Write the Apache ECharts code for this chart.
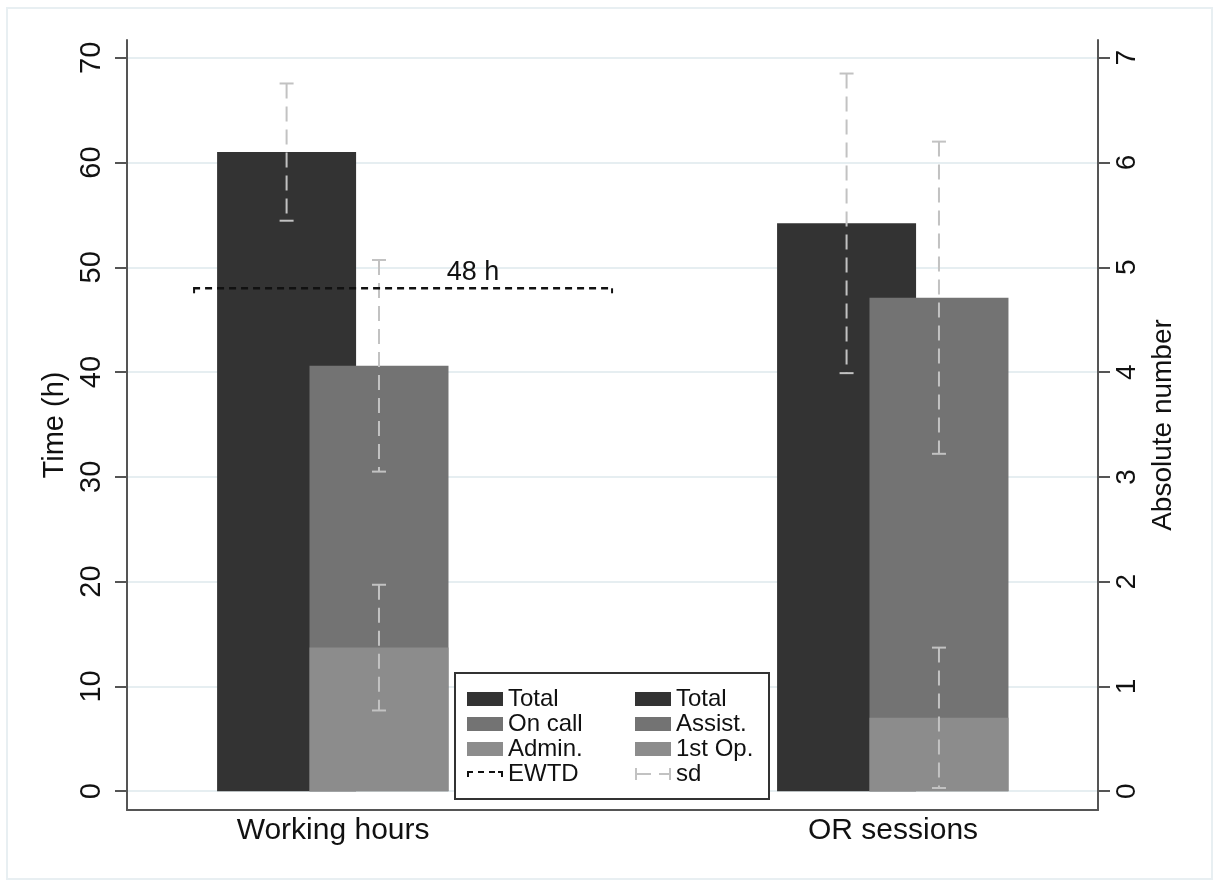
<!DOCTYPE html>
<html>
<head>
<meta charset="utf-8">
<script src="https://cdn.jsdelivr.net/npm/echarts@6/dist/echarts.min.js"></script>
<style>
  html, body { margin: 0; padding: 0; background: #fff; }
  #chart { width: 1216px; height: 885px; }
</style>
</head>
<body>
<div id="chart"></div>
<script>
  // categories on the x axis
  const categories = ['Working hours', 'OR sessions'];

  // working hours (left axis, hours)
  const hoursNames = ['Total', 'On call', 'Admin.'];
  const hoursMean = [61.0, 40.6, 13.7];
  const hoursSd = [6.55, 10.1, 6.0];

  // OR sessions (right axis, absolute number)
  const orNames = ['Total (OR)', 'Assist.', '1st Op.'];
  const orMean = [5.42, 4.71, 0.70];
  const orSd = [1.43, 1.49, 0.67];

  // european working time directive line
  const ewtdValue = 48;
  const ewtdRange = [0.75, 1.5];

  const leftTicks = [0, 10, 20, 30, 40, 50, 60, 70];
  const rightTicks = [0, 1, 2, 3, 4, 5, 6, 7];

  const colors = ['#333333', '#737373', '#8c8c8c'];
  const sdColor = '#c2c2c2';
  const axisColor = '#555';
  const font = '"Liberation Sans", Arial, Helvetica, sans-serif';
  // total bar sits left of the category, the other two share the right slot
  const slot = [-0.083, 0.082, 0.082];

  let chart = echarts.init(document.getElementById('chart'));

  let barSeries = [];
  let sdHours = [];
  let sdOr = [];
  hoursNames.forEach(function (name, i) {
    barSeries.push({
      name: name, type: 'bar', xAxisIndex: 0, yAxisIndex: 0,
      barWidth: 139, barGap: '-100%',
      itemStyle: { color: colors[i] },
      data: [[1 + slot[i], hoursMean[i]]]
    });
    sdHours.push([1 + slot[i], hoursMean[i], hoursSd[i]]);
  });
  orNames.forEach(function (name, i) {
    barSeries.push({
      name: name, type: 'bar', xAxisIndex: 0, yAxisIndex: 1,
      barWidth: 139, barGap: '-100%',
      itemStyle: { color: colors[i] },
      data: [[2 + slot[i], orMean[i]]]
    });
    sdOr.push([2 + slot[i], orMean[i], orSd[i]]);
  });

  function errorBar(params, api) {
    const x = api.value(0), m = api.value(1), s = api.value(2);
    const top = api.coord([x, m + s]);
    const bot = api.coord([x, m - s]);
    const cw = 7;
    return {
      type: 'group',
      children: [
        { type: 'line', shape: { x1: top[0], y1: top[1], x2: bot[0], y2: bot[1] },
          style: { stroke: sdColor, lineWidth: 2, lineDash: [15, 8] } },
        { type: 'line', shape: { x1: top[0] - cw, y1: top[1], x2: top[0] + cw, y2: top[1] },
          style: { stroke: sdColor, lineWidth: 2 } },
        { type: 'line', shape: { x1: bot[0] - cw, y1: bot[1], x2: bot[0] + cw, y2: bot[1] },
          style: { stroke: sdColor, lineWidth: 2 } }
      ]
    };
  }

  function ewtdLine(params, api) {
    const p1 = api.coord([api.value(0), api.value(2)]);
    const p2 = api.coord([api.value(1), api.value(2)]);
    const lx = p1[0] + (p2[0] - p1[0]) * 2 / 3;
    return {
      type: 'group',
      children: [
        { type: 'line', shape: { x1: p1[0], y1: p1[1], x2: p2[0], y2: p2[1] },
          style: { stroke: '#111', lineWidth: 2.5, lineDash: [7, 5] } },
        { type: 'line', shape: { x1: p1[0] + 1, y1: p1[1], x2: p1[0] + 1, y2: p1[1] + 5 },
          style: { stroke: '#111', lineWidth: 2 } },
        { type: 'line', shape: { x1: p2[0] - 1, y1: p2[1], x2: p2[0] - 1, y2: p2[1] + 5 },
          style: { stroke: '#111', lineWidth: 2 } },
        { type: 'text', x: lx, y: p1[1] - 2,
          style: { text: ewtdValue + ' h', fill: '#111', font: '27px ' + font,
                   align: 'center', verticalAlign: 'bottom' } }
      ]
    };
  }

  const col1 = ['Total', 'On call', 'Admin.', 'EWTD'];

  chart.setOption({
    animation: false,
    textStyle: { fontFamily: font },
    graphic: [{
      type: 'rect', silent: true,
      shape: { x: 7, y: 8, width: 1205, height: 871 },
      style: { fill: 'none', stroke: '#e8eff2', lineWidth: 2 }
    }],
    grid: { left: 127, right: 118, top: 40, bottom: 75 },
    legend: {
      orient: 'vertical',
      left: 455, top: 673,
      height: 104,
      padding: [14, 8, 13, 12],
      itemGap: 1,
      itemWidth: 36, itemHeight: 14,
      borderColor: '#333', borderWidth: 2, borderRadius: 0,
      backgroundColor: '#fff',
      selectedMode: false,
      data: [
        { name: 'Total', icon: 'rect' },
        { name: 'On call', icon: 'rect' },
        { name: 'Admin.', icon: 'rect' },
        { name: 'EWTD', icon: 'path://M0,0h6v2h-6z M0,0h2v6h-2z M11,0h6v2h-6z M22,0h6v2h-6z M31,0h5v2h-5z M34,0h2v6h-2z' },
        { name: 'Total (OR)', icon: 'rect' },
        { name: 'Assist.', icon: 'rect' },
        { name: '1st Op.', icon: 'rect' },
        { name: 'sd', icon: 'path://M0,0h2v12h-2z M2,5h14v2h-14z M24,5h10v2h-10z M34,0h2v12h-2z' }
      ],
      formatter: function (name) {
        const label = name.replace(' (OR)', '');
        return (col1.indexOf(name) >= 0 ? '{a|' : '{b|') + label + '}';
      },
      textStyle: {
        color: '#111',
        rich: {
          a: { width: 126, fontSize: 24, lineHeight: 22, fontFamily: font, color: '#111' },
          b: { width: 85, fontSize: 24, lineHeight: 22, fontFamily: font, color: '#111' }
        }
      }
    },
    xAxis: {
      type: 'value',
      min: 0.632, max: 2.366,
      axisLine: { onZero: false, lineStyle: { color: axisColor, width: 2 } },
      axisTick: { show: false },
      splitLine: { show: false },
      axisLabel: {
        customValues: [1, 2],
        formatter: function (v) { return categories[Math.round(v) - 1]; },
        fontSize: 30, color: '#111', margin: 6
      }
    },
    yAxis: [{
      type: 'value',
      position: 'left',
      min: -1.8, max: 71.7,
      name: 'Time (h)', nameLocation: 'middle', nameGap: 57, nameRotate: 90,
      nameTextStyle: { fontSize: 29, color: '#111' },
      axisLine: { show: true, onZero: false, lineStyle: { color: axisColor, width: 2 } },
      axisTick: { show: true, customValues: leftTicks, length: 12, lineStyle: { color: axisColor, width: 2 } },
      axisLabel: { customValues: leftTicks, rotate: 90, fontSize: 29, color: '#111', margin: 21 },
      splitLine: { show: true, lineStyle: { color: '#e6eef1', width: 2 } }
    }, {
      type: 'value',
      position: 'right',
      min: -0.18, max: 7.17,
      name: 'Absolute number', nameLocation: 'middle', nameGap: 50, nameRotate: 90,
      nameTextStyle: { fontSize: 28, color: '#111' },
      axisLine: { show: true, onZero: false, lineStyle: { color: axisColor, width: 2 } },
      axisTick: { show: true, customValues: rightTicks, length: 12, lineStyle: { color: axisColor, width: 2 } },
      axisLabel: { customValues: rightTicks, rotate: 90, fontSize: 28, color: '#111', margin: 15 },
      splitLine: { show: false }
    }],
    series: barSeries.concat([
      {
        name: 'sd', type: 'custom', xAxisIndex: 0, yAxisIndex: 0, z: 3,
        itemStyle: { color: sdColor },
        renderItem: errorBar, encode: { x: 0, y: 1 },
        data: sdHours
      },
      {
        name: 'sd', type: 'custom', xAxisIndex: 0, yAxisIndex: 1, z: 3,
        itemStyle: { color: sdColor },
        renderItem: errorBar, encode: { x: 0, y: 1 },
        data: sdOr
      },
      {
        name: 'EWTD', type: 'custom', xAxisIndex: 0, yAxisIndex: 0, z: 4,
        itemStyle: { color: '#111' },
        renderItem: ewtdLine, encode: { x: [0, 1], y: 2 },
        data: [[ewtdRange[0], ewtdRange[1], ewtdValue]]
      }
    ])
  });
</script>
</body>
</html>
